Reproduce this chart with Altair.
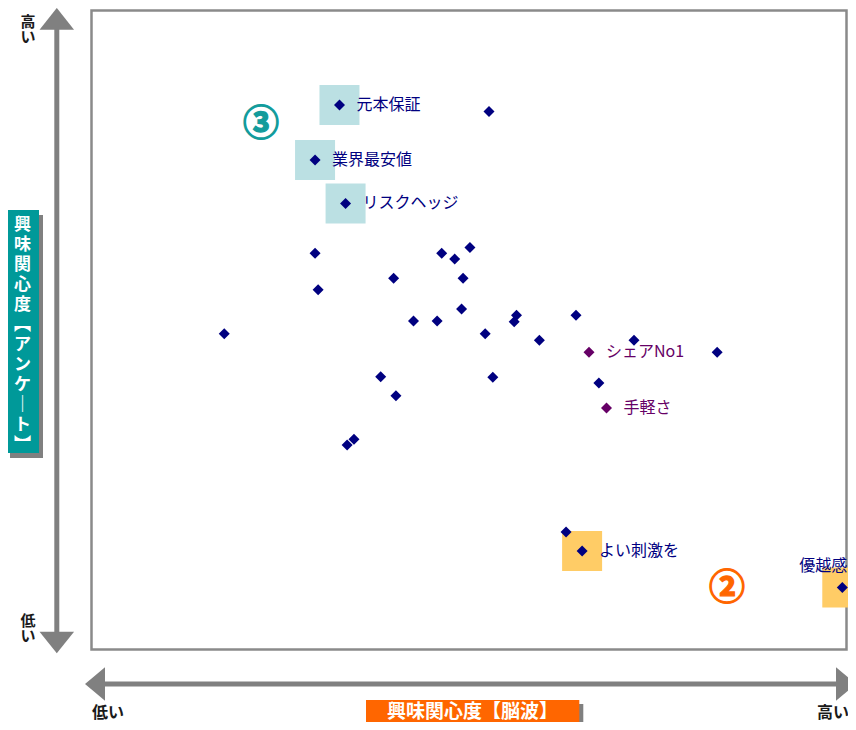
import altair as alt
import pandas as pd

# ---- data (x: 興味関心度【脳波】, y: 興味関心度【アンケート】, 0-10 scale) ----
label_names = ["元本保証", "業界最安値", "リスクヘッジ", "シェアNo1", "手軽さ", "よい刺激を", "優越感"]
label_x = [3.25, 2.93, 3.33, 6.52, 6.75, 6.43, 9.84]
label_y = [8.52, 7.66, 6.98, 4.65, 3.78, 1.54, 0.97]
label_group = ["main", "main", "main", "accent", "accent", "main", "main"]
label_box = ["blue", "blue", "blue", "none", "none", "orange", "orange"]

other_x = [5.21, 2.93, 2.97, 3.96, 4.59, 4.76, 4.96, 4.87, 1.74, 4.22, 4.53, 4.85,
           5.16, 5.57, 5.54, 5.87, 6.35, 7.11, 8.20, 3.79, 3.99, 5.26, 6.65, 3.44,
           3.35, 6.22]
other_y = [8.42, 6.20, 5.63, 5.81, 6.20, 6.11, 6.29, 5.81, 4.94, 5.14, 5.14, 5.33,
           4.94, 5.23, 5.13, 4.84, 5.23, 4.84, 4.65, 4.27, 3.97, 4.26, 4.17, 3.29,
           3.20, 1.84]

mark_texts = ["③", "②"]
mark_x = [2.22, 8.33]
mark_y = [8.21, 0.94]
mark_kind = ["teal", "orange"]

y_title = ["興", "味", "関", "心", "度", "︻", "ア", "ン", "ケ", "｜", "ト", "︼"]
x_title = "興味関心度【脳波】"

FONT = "Noto Sans CJK JP"
NAVY = "#000080"
PURPLE = "#660066"
GRAY = "#808080"

df = pd.DataFrame({
    "name": label_names + [""] * len(other_x),
    "x": label_x + other_x,
    "y": label_y + other_y,
    "group": label_group + ["main"] * len(other_x),
    "box": label_box + ["none"] * len(other_x),
})
marks_df = pd.DataFrame({"t": mark_texts, "x": mark_x, "y": mark_y, "kind": mark_kind})

X = alt.X("x:Q", scale=alt.Scale(domain=[0, 9.8952], nice=False, zero=False), axis=None)
Y = alt.Y("y:Q", scale=alt.Scale(domain=[0, 10], nice=False, zero=False), axis=None)

base = alt.Chart(df)

box_blue = base.transform_filter("datum.box == 'blue'").mark_square(
    size=1600, color="#BBE0E3", opacity=1).encode(x=X, y=Y)
box_orange = base.transform_filter("datum.box == 'orange'").mark_square(
    size=1600, color="#FFCC66", opacity=1).encode(x=X, y=Y)

pts_main = base.transform_filter("datum.group == 'main'").mark_point(
    shape="diamond", filled=True, size=121, color=NAVY, opacity=1).encode(x=X, y=Y)
pts_acc = base.transform_filter("datum.group == 'accent'").mark_point(
    shape="diamond", filled=True, size=121, color=PURPLE, opacity=1).encode(x=X, y=Y)

txt_color = alt.condition("datum.group == 'accent'", alt.value(PURPLE), alt.value(NAVY))
lbl_right = base.transform_filter("datum.name != '' && datum.name != '優越感'").mark_text(
    align="left", baseline="middle", dx=17, fontSize=16, font=FONT).encode(
    x=X, y=Y, text="name:N", color=txt_color)
lbl_above = base.transform_filter("datum.name == '優越感'").mark_text(
    align="center", baseline="middle", dx=-19, dy=-22, fontSize=16, font=FONT).encode(
    x=X, y=Y, text="name:N", color=alt.value(NAVY))

circ_color = alt.condition("datum.kind == 'teal'", alt.value("#139C9C"), alt.value("#FF6600"))
circ = alt.Chart(marks_df).mark_text(
    align="center", baseline="middle", fontSize=36, fontWeight="bold", font=FONT,
    strokeWidth=1.3).encode(
    x=X, y=Y, text="t:N", color=circ_color, stroke=circ_color)

deco = alt.Chart(pd.DataFrame({"d": [0]}))

v_shaft = deco.mark_rule(color=GRAY, strokeWidth=5).encode(
    x=alt.value(-34.7), y=alt.value(15), y2=alt.value(625))
h_shaft = deco.mark_rule(color=GRAY, strokeWidth=5).encode(
    x=alt.value(10), x2=alt.value(746), y=alt.value(673.5))
head_up = deco.mark_point(shape="M-1,0.63L0,-0.63L1,0.63Z", filled=True, size=1190,
                          color=GRAY, opacity=1).encode(x=alt.value(-34.7), y=alt.value(8.3))
head_down = deco.mark_point(shape="M-1,-0.63L0,0.63L1,-0.63Z", filled=True, size=1190,
                            color=GRAY, opacity=1).encode(x=alt.value(-34.7), y=alt.value(632))
head_left = deco.mark_point(shape="M0.6,-1L-0.6,0L0.6,1Z", filled=True, size=1109,
                            color=GRAY, opacity=1).encode(x=alt.value(3.5), y=alt.value(673.5))
head_right = deco.mark_point(shape="M-0.6,-1L0.6,0L-0.6,1Z", filled=True, size=1109,
                             color=GRAY, opacity=1).encode(x=alt.value(754.5), y=alt.value(673.5))

teal_shadow = deco.mark_rect(color=GRAY).encode(
    x=alt.value(-81.5), x2=alt.value(-48.5), y=alt.value(204.5), y2=alt.value(447.5))
teal_box = deco.mark_rect(color="#009999").encode(
    x=alt.value(-85.5), x2=alt.value(-52.5), y=alt.value(199.5), y2=alt.value(442.5))
teal_text = deco.mark_text(text=y_title, align="center", baseline="middle", fontSize=17,
                           lineHeight=20, fontWeight="bold", font=FONT, color="white").encode(
    x=alt.value(-69), y=alt.value(214.5))

or_shadow = deco.mark_rect(color=GRAY).encode(
    x=alt.value(278.5), x2=alt.value(491.8), y=alt.value(693.5), y2=alt.value(716))
or_box = deco.mark_rect(color="#FF6600").encode(
    x=alt.value(274.5), x2=alt.value(487.8), y=alt.value(689.5), y2=alt.value(716))
or_text = deco.mark_text(text=x_title, align="center", baseline="middle", fontSize=19,
                         fontWeight="bold", font=FONT, color="white").encode(
    x=alt.value(381), y=alt.value(701.5))

hi_v = deco.mark_text(text=["高", "い"], align="center", baseline="middle", fontSize=15,
                      lineHeight=15, fontWeight="bold", font=FONT, color="#1a1a1a").encode(
    x=alt.value(-63.5), y=alt.value(11))
lo_v = deco.mark_text(text=["低", "い"], align="center", baseline="middle", fontSize=15,
                      lineHeight=15, fontWeight="bold", font=FONT, color="#1a1a1a").encode(
    x=alt.value(-63.5), y=alt.value(610))
lo_h = deco.mark_text(text="低い", align="center", baseline="middle", fontSize=16,
                      fontWeight="bold", font=FONT, color="#1a1a1a").encode(
    x=alt.value(16.5), y=alt.value(702.5))
hi_h = deco.mark_text(text="高い", align="center", baseline="middle", fontSize=16,
                      fontWeight="bold", font=FONT, color="#1a1a1a").encode(
    x=alt.value(741.5), y=alt.value(702.5))

chart = alt.layer(
    box_blue, box_orange, pts_main, pts_acc, lbl_right, lbl_above, circ,
    v_shaft, h_shaft, head_up, head_down, head_left, head_right,
    teal_shadow, teal_box, teal_text, or_shadow, or_box, or_text,
    hi_v, lo_v, lo_h, hi_h,
).properties(
    width=755, height=639,
    autosize=alt.AutoSizeParams(type="none"),
    padding={"left": 83.5, "top": 2.5, "right": 1.5, "bottom": 72.5},
    background="white",
).configure_view(stroke="#8a8a8a", strokeWidth=2.5)

chart.save("out.html", embed_options={"renderer": "svg", "actions": False})
